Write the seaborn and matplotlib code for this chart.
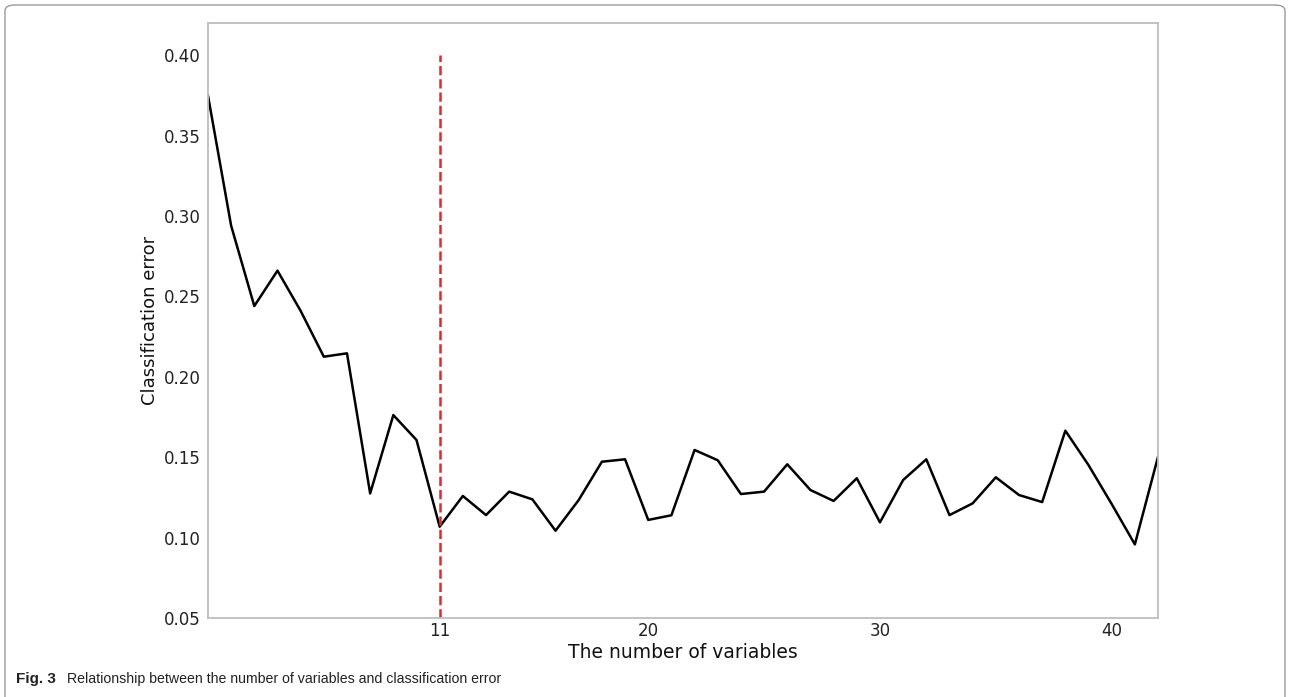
import matplotlib
matplotlib.use("Agg")
import matplotlib.pyplot as plt
import seaborn as sns
import pandas as pd
from matplotlib.patches import FancyBboxPatch

# values
n_vars = list(range(1, 43))
class_error = [0.375, 0.294, 0.244, 0.266, 0.241, 0.2125, 0.2146, 0.1275, 0.1762, 0.1607,
               0.1068, 0.1259, 0.1140, 0.1286, 0.1238, 0.1043, 0.1234, 0.1472, 0.1487, 0.1110,
               0.1139, 0.1545, 0.1481, 0.1271, 0.1286, 0.1456, 0.1296, 0.1228, 0.1369, 0.1095,
               0.1358, 0.1487, 0.1140, 0.1213, 0.1375, 0.1265, 0.1221, 0.1665, 0.1451, 0.1209,
               0.0958, 0.1503]
best_n = 11
tick_pos = [11, 20, 30, 40]

df = pd.DataFrame({"n": n_vars, "err": class_error})

sns.set_style("white")
plt.rcParams['font.family'] = ['DejaVu Sans']

fig = plt.figure(figsize=(12.9, 6.97), dpi=100)
ax = fig.add_axes([0.1612, 0.1133, 0.7365, 0.8537])

sns.lineplot(data=df, x="n", y="err", color="black", linewidth=1.8, ax=ax)
ax.vlines(best_n, 0.05, 0.40, colors="#e8262a", linestyles="--", linewidth=1.8)

ax.set_xlim(1, 42)
ax.set_ylim(0.05, 0.42)
ax.set_xticks(tick_pos)
ax.set_xticklabels([str(t) for t in tick_pos])
ax.set_yticks([0.05, 0.10, 0.15, 0.20, 0.25, 0.30, 0.35, 0.40])
ax.set_yticklabels(["0.05", "0.10", "0.15", "0.20", "0.25", "0.30", "0.35", "0.40"])
ax.tick_params(axis="both", labelsize=12, length=2, color="#c8c8c8", labelcolor="#222222")
ax.tick_params(axis="x", pad=1)
ax.tick_params(axis="y", pad=3)
for s in ax.spines.values():
    s.set_color("#bdbdbd")
    s.set_linewidth(1.3)

ax.set_xlabel("The number of variables", fontsize=13.5, color="#111111", labelpad=2)
ax.set_ylabel("Classification error", fontsize=13, color="#111111", labelpad=4)

# caption + frame
cap_font = ["Liberation Sans", "DejaVu Sans"]
fig.text(16 / 1290, 1 - 679 / 697, "Fig. 3", fontsize=11, fontweight="bold",
         family=cap_font, va="center", ha="left", color="#222222")
fig.text(67 / 1290, 1 - 679 / 697, "Relationship between the number of variables and classification error",
         fontsize=10.2, family=cap_font, va="center", ha="left", color="#222222")
frame = FancyBboxPatch((5 / 1290, -10 / 697), 1280 / 1290, 702 / 697, transform=fig.transFigure,
                       boxstyle="round,pad=0,rounding_size=0.008", fill=False,
                       edgecolor="#9a9a9a", linewidth=1.0)
fig.patches.append(frame)

fig.savefig("out.png", dpi=100)
